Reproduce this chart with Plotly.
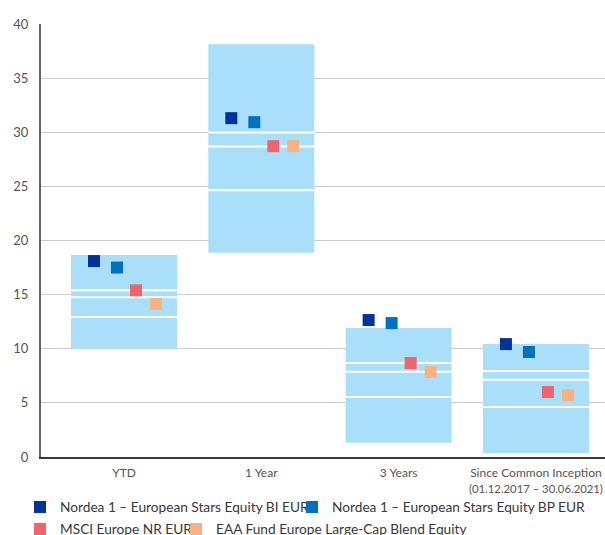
import plotly.graph_objects as go

categories = ["YTD", "1 Year", "3 Years",
              "Since Common Inception<br><span style='font-size:11.3px'>(01.12.2017 – 30.06.2021)</span>"]
range_top = [18.65, 38.13, 11.91, 10.43]
range_bottom = [10.0, 18.86, 1.32, 0.37]
quartile_upper = [15.4, 29.98, 8.68, 7.94]
quartile_median = [14.75, 28.69, 7.88, 7.14]
quartile_lower = [12.93, 24.65, 5.54, 4.62]

series_names = [
    "Nordea 1 – European Stars Equity BI EUR",
    "Nordea 1 – European Stars Equity BP EUR",
    "MSCI Europe NR EUR",
    "EAA Fund Europe Large-Cap Blend Equity",
]
bi_eur = [18.1, 31.3, 12.65, 10.43]
bp_eur = [17.5, 30.93, 12.37, 9.7]
msci_europe = [15.4, 28.72, 8.68, 6.0]
eaa_fund = [14.15, 28.72, 7.85, 5.72]

series_values = [bi_eur, bp_eur, msci_europe, eaa_fund]
series_colors = ["#00339b", "#0071bc", "#f0646e", "#f9b183"]
series_offsets = [-0.2185, -0.051, 0.0874, 0.233]

BAR_W = 0.772
xs = list(range(len(categories)))

fig = go.Figure()

fig.add_trace(go.Bar(
    x=xs,
    y=[t - b for t, b in zip(range_top, range_bottom)],
    base=range_bottom,
    width=BAR_W,
    marker=dict(color="#a9dff8", line=dict(width=0)),
    showlegend=False,
    hoverinfo="skip",
))

lx, ly = [], []
for i in xs:
    for q in (quartile_upper[i], quartile_median[i], quartile_lower[i]):
        lx += [i - BAR_W / 2, i + BAR_W / 2, None]
        ly += [q, q, None]
fig.add_trace(go.Scatter(
    x=lx, y=ly, mode="lines",
    line=dict(color="white", width=2),
    showlegend=False, hoverinfo="skip",
))

legend_names = ["legend", "legend2", "legend3", "legend4"]
for name, vals, col, off, lg in zip(series_names, series_values, series_colors, series_offsets, legend_names):
    fig.add_trace(go.Scatter(
        x=[i + off for i in xs], y=vals, mode="markers", name=name,
        marker=dict(symbol="square", size=12, color=col, line=dict(width=0)),
        legend=lg,
    ))

PL, PR, PT, PB = 41, 0, 24, 78
W, H = 605, 535
pw, ph = W - PL - PR, H - PT - PB

def px_x(p):
    return (p - PL) / pw

def px_y(p):
    return (H - PB - p) / ph

legend_font = dict(family="Lato", size=13.7, color="#383838")
def leg(x_text, y_center):
    return dict(x=px_x(x_text - 38), y=px_y(y_center), xanchor="left", yanchor="middle",
                orientation="h", bgcolor="rgba(0,0,0,0)", font=legend_font,
                borderwidth=0, itemclick=False, itemdoubleclick=False)

fig.update_layout(
    width=W, height=H,
    margin=dict(l=PL, r=PR, t=PT, b=PB, autoexpand=False, pad=0),
    paper_bgcolor="white", plot_bgcolor="white",
    font=dict(family="Lato", size=13, color="#555555"),
    barmode="overlay",
    legend=leg(58, 507),
    legend2=leg(330, 507),
    legend3=leg(58, 529),
    legend4=leg(214, 529),
    xaxis=dict(
        range=[-0.6045, 3.503], tickvals=xs, ticktext=categories,
        showgrid=False, zeroline=False, showline=True, linecolor="#3a3a3a", linewidth=2,
        ticks="", ticklabelstandoff=4, ticklabeloverflow="allow",
        tickfont=dict(size=12, color="#555555"),
    ),
    yaxis=dict(
        range=[0, 40], dtick=5, tick0=0,
        showgrid=True, gridcolor="#cccccc", gridwidth=1,
        zeroline=False, showline=True, linecolor="#666666", linewidth=2,
        ticks="", ticklabelstandoff=8, tickfont=dict(size=13, color="#555555"),
    ),
)

fig.write_html("out.html")
